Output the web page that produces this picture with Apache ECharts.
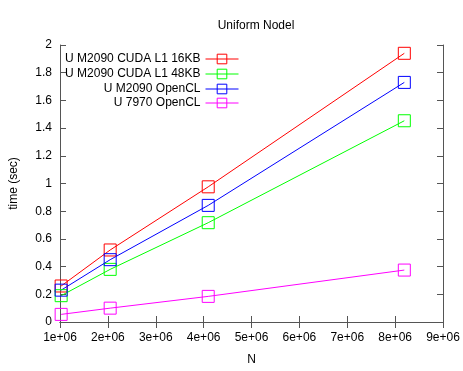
<!DOCTYPE html>
<html>
<head>
<meta charset="utf-8">
<script src="https://cdn.jsdelivr.net/npm/echarts@6/dist/echarts.min.js"></script>
<style>
  html, body { margin: 0; padding: 0; background: #fff; }
  #chart { width: 463px; height: 371px; }
</style>
</head>
<body>
<div id="chart"></div>
<script>
const sizes = [1024000, 2048000, 4096000, 8192000];
const names = ["U M2090 CUDA L1 16KB", "U M2090 CUDA L1 48KB", "U M2090 OpenCL", "U 7970 OpenCL"];
const cuda16 = [0.26, 0.52, 0.976, 1.94];
const cuda48 = [0.19, 0.38, 0.717, 1.453];
const m2090cl = [0.23, 0.45, 0.842, 1.73];
const hd7970cl = [0.055, 0.10, 0.185, 0.375];
const colors = ["#ff0000", "#00ff00", "#0000ff", "#ff00ff"];

const font = "Liberation Sans, Arial, sans-serif";
const axisColor = "#555";

const allSeries = [cuda16, cuda48, m2090cl, hd7970cl];

// hollow squares, line visible through them like gnuplot
const series = allSeries.map((vals, i) => ({
  name: names[i],
  type: "line",
  data: vals.map((v, j) => [sizes[j], v]),
  symbol: "rect",
  symbolSize: 12,
  showAllSymbol: true,
  color: colors[i],
  lineStyle: { width: 1, color: colors[i] },
  itemStyle: { color: "rgba(0,0,0,0)", borderColor: colors[i], borderWidth: 1 },
}));

const rowTop = [53, 68, 83, 97];
const legends = names.map((n, i) => ({
  data: [n],
  right: 224,
  top: rowTop[i],
  padding: 0,
  align: "right",
  itemWidth: 33,
  itemHeight: 12,
  itemGap: 0,
  selectedMode: false,
  lineStyle: { width: 1 },
  itemStyle: { borderWidth: 1 },
  textStyle: { fontFamily: font, fontSize: 12, color: "#000" },
}));

const tickStyle = { show: true, inside: true, length: 6, lineStyle: { color: axisColor } };

const option = {
  animation: false,
  title: {
    text: "Uniform Nodel",
    left: 251,
    textAlign: "center",
    top: 15,
    textStyle: { fontFamily: font, fontSize: 12, fontWeight: "normal", color: "#000" },
  },
  legend: legends,
  grid: { left: 59, right: 20, top: 45, bottom: 48 },
  xAxis: [
    {
      type: "value",
      min: 1000000,
      max: 9000000,
      interval: 1000000,
      name: "N",
      nameLocation: "middle",
      nameGap: 32,
      nameTextStyle: { fontFamily: font, fontSize: 12, color: "#000" },
      axisLine: { show: true, lineStyle: { color: axisColor } },
      axisTick: tickStyle,
      splitLine: { show: false },
      axisLabel: {
        fontFamily: font, fontSize: 12, color: "#000", margin: 10,
        formatter: v => (v / 1000000) + "e+06",
      },
    },
    {
      type: "value",
      position: "top",
      min: 1000000,
      max: 9000000,
      interval: 1000000,
      axisLine: { show: true, lineStyle: { color: axisColor } },
      axisTick: tickStyle,
      axisLabel: { show: false },
      splitLine: { show: false },
    },
  ],
  yAxis: [
    {
      type: "value",
      min: 0,
      max: 2,
      interval: 0.2,
      name: "time (sec)",
      nameLocation: "middle",
      nameGap: 40,
      nameTextStyle: { fontFamily: font, fontSize: 12, color: "#000" },
      axisLine: { show: true, lineStyle: { color: axisColor } },
      axisTick: tickStyle,
      splitLine: { show: false },
      axisLabel: {
        fontFamily: font, fontSize: 12, color: "#000", margin: 8,
        formatter: v => String(+v.toFixed(1)),
      },
    },
    {
      type: "value",
      position: "right",
      min: 0,
      max: 2,
      interval: 0.2,
      axisLine: { show: true, lineStyle: { color: axisColor } },
      axisTick: tickStyle,
      axisLabel: { show: false },
      splitLine: { show: false },
    },
  ],
  series: series,
};

let myChart = echarts.init(document.getElementById("chart"));
myChart.setOption(option);
</script>
</body>
</html>
